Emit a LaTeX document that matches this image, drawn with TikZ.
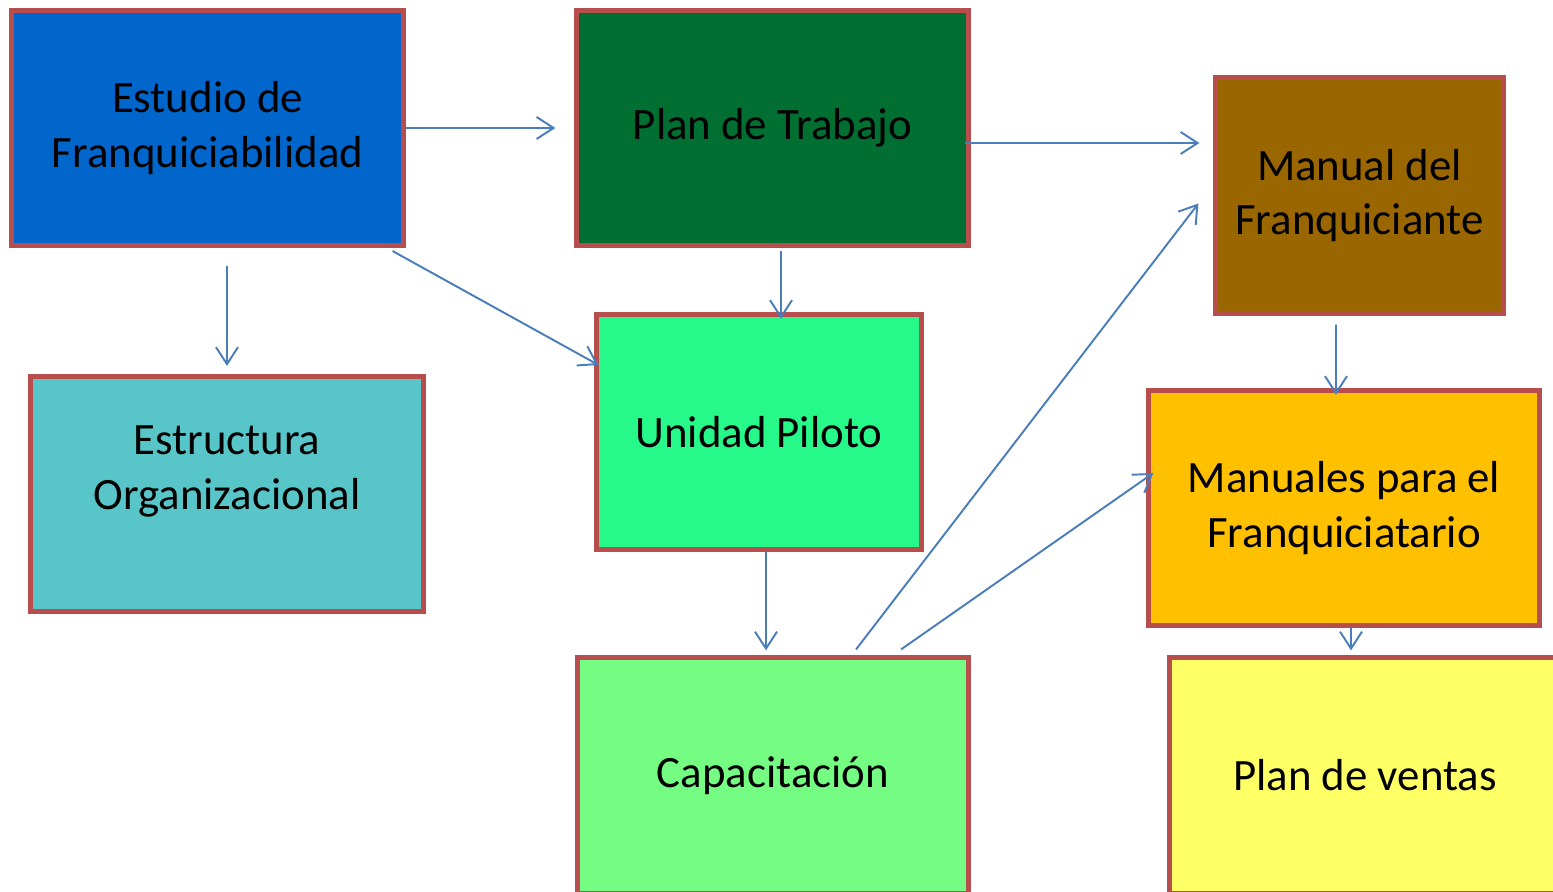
\documentclass[tikz,border=0pt]{standalone}
\usepackage{fontspec}
\setmainfont{Carlito}
\usetikzlibrary{arrows.meta}

\definecolor{borde}{HTML}{B84D4D}
\definecolor{flecha}{HTML}{4A7EBB}
\definecolor{azul}{HTML}{0066CC}
\definecolor{verdeosc}{HTML}{006F31}
\definecolor{cafe}{HTML}{996600}
\definecolor{turquesa}{HTML}{58C5C8}
\definecolor{verdemed}{HTML}{26F98A}
\definecolor{naranja}{HTML}{FFC000}
\definecolor{verdecla}{HTML}{75FC82}
\definecolor{amarillo}{HTML}{FFFF66}

\tikzset{
	caja/.style={draw=borde, line width=0.05cm, align=center, inner sep=0pt,
		minimum height=2.35cm, font=\fontsize{12.75}{15.5}\selectfont},
	flec/.style={draw=flecha, line width=0.55pt,
		-{Straight Barb[length=0.17cm, width=0.22cm, line width=0.55pt]}}
}

\begin{document}
\begin{tikzpicture}[x=0.01cm, y=-0.01cm]
	\useasboundingbox (0,0) rectangle (1553,892);
	\node[caja, fill=azul, minimum width=3.91cm] (estudio) at (207.5,128) {Estudio de\\Franquiciabilidad};
	\node[caja, fill=verdeosc, minimum width=3.91cm] (plan) at (772.5,128) {Plan de Trabajo};
	\node[caja, fill=cafe, minimum width=2.87cm] (manual) at (1359.5,195.5) {Manual del\\Franquiciante};
	\node[caja, fill=turquesa, minimum width=3.92cm] (estructura) at (227,494) {Estructura\\Organizacional\\[-0.18cm]\strut};
	\node[caja, fill=verdemed, minimum width=3.24cm] (piloto) at (759,432) {Unidad Piloto};
	\node[caja, fill=naranja, minimum width=3.90cm] (manuales) at (1344,508) {Manuales para el\\Franquiciatario};
	\node[caja, fill=verdecla, minimum width=3.90cm] (capacitacion) at (773,775.5) {Capacitación};
	\node[caja, fill=amarillo, minimum width=3.90cm] (ventas) at (1365,775.5) {Plan de ventas};
	% flechas
	\draw[flec, shorten >=0.19cm] (estudio.east) -- (plan.west);
	\draw[flec, shorten >=0.14cm] ([xshift=-0.06cm,yshift=-0.15cm]plan.east) coordinate (p2) -- (p2 -| manual.west);
	\draw[flec, shorten <=0.18cm, shorten >=0.08cm] (estudio.south -| estructura.north) -- (estructura.north);
	\draw[flec] ([xshift=-0.13cm,yshift=-0.03cm]estudio.south east) -- ([xshift=0.04cm,yshift=-0.53cm]piloto.north west);
	\draw[flec] ([xshift=0.085cm,yshift=-0.03cm]plan.south) -- ([xshift=0.22cm,yshift=-0.07cm]piloto.north);
	\draw[flec] ([xshift=-0.235cm,yshift=-0.09cm]manual.south) -- ([xshift=-0.08cm,yshift=-0.07cm]manuales.north);
	\draw[flec] ([xshift=0.07cm]piloto.south) -- ([xshift=-0.07cm,yshift=0.05cm]capacitacion.north);
	\draw[flec] ([xshift=0.83cm,yshift=0.06cm]capacitacion.north) -- ([xshift=-0.15cm,yshift=-0.08cm]manual.west);
	\draw[flec] ([xshift=1.28cm,yshift=0.06cm]capacitacion.north) -- ([xshift=0.07cm,yshift=0.35cm]manuales.west);
	\draw[flec] ([xshift=0.07cm]manuales.south) -- ([xshift=-0.14cm,yshift=0.05cm]ventas.north);
\end{tikzpicture}
\end{document}
